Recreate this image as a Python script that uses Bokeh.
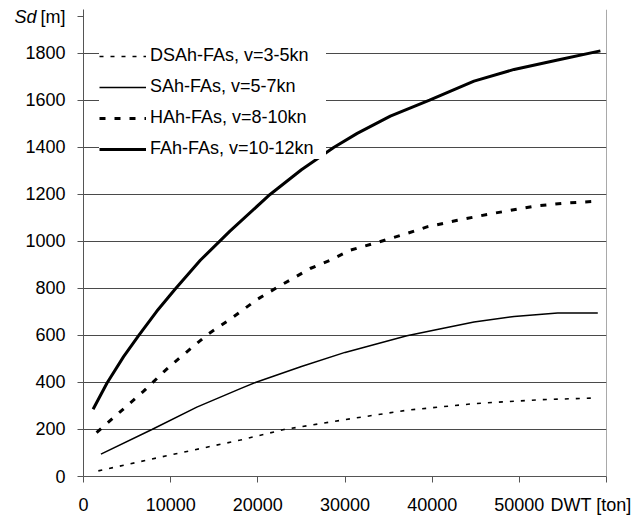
from bokeh.plotting import figure
from bokeh.models import Legend, LegendItem, Span, FixedTicker, Range1d, LinearAxis
from bokeh.embed import file_html
from bokeh.resources import INLINE

# ---- data ----
dsah_x = [1700, 10000, 18000, 23000, 30000, 37100, 44800, 52500, 58800]
dsah_y = [24, 92, 155, 200, 242, 282, 310, 327, 334]

sah_x = [2000, 7850, 13000, 18000, 19800, 25000, 30000, 37100, 41000, 44800, 49400, 54400, 59000]
sah_y = [95, 200, 295, 374, 401, 468, 528, 599, 629, 657, 681, 696, 696]

hah_x = [1500, 4200, 6900, 9200, 10500, 13000, 14300, 17200, 19900, 22200, 26000, 28300, 30600,
         33900, 37100, 39400, 42900, 46300, 51700, 55200, 58800]
hah_y = [187, 275, 363, 445, 488, 566, 606, 679, 753, 804, 885, 920, 963,
         998, 1034, 1062, 1090, 1115, 1150, 1163, 1171]

fah_x = [1100, 2700, 4600, 6300, 8400, 10500, 13400, 16800, 21400, 25000, 28700, 31400, 35200, 39700,
         44800, 49400, 54400, 59300]
fah_y = [286, 398, 510, 598, 703, 797, 920, 1044, 1200, 1305, 1400, 1460, 1533, 1601,
         1682, 1732, 1772, 1811]

x_ticks = [0, 10000, 20000, 30000, 40000, 50000, 60000]
y_ticks = [0, 200, 400, 600, 800, 1000, 1200, 1400, 1600, 1800]

series_labels = ["DSAh-FAs, v=3-5kn", "SAh-FAs, v=5-7kn", "HAh-FAs, v=8-10kn", "FAh-FAs, v=10-12kn"]
x_title = "DWT [ton]"
y_title_italic = "Sd"
y_title_unit = "[m]"
title_y = 1957   # vertical position of the y-axis title

FONT = "Liberation Sans"
AX = "#555555"
NBSP = "\u00a0"

p = figure(width=641, height=517,
           x_range=Range1d(0, 60000), y_range=Range1d(0, 1987),
           output_backend="svg", toolbar_location=None,
           min_border_left=83, min_border_right=35, min_border_top=9, min_border_bottom=41)
p.outline_line_color = None
p.background_fill_color = "white"
p.border_fill_color = "white"
p.xgrid.visible = False
p.ygrid.ticker = FixedTicker(ticks=y_ticks)
p.ygrid.grid_line_color = "#4a4a4a"
p.ygrid.grid_line_width = 1

for ax, ticks in ((p.xaxis[0], x_ticks), (p.yaxis[0], y_ticks + [title_y])):
    ax.ticker = FixedTicker(ticks=ticks)
    ax.axis_line_color = AX
    ax.major_tick_line_color = AX
    ax.minor_tick_line_color = None
    ax.major_tick_in = 0
    ax.major_tick_out = 6
    ax.major_label_text_font = FONT
    ax.major_label_text_font_size = "18px"
    ax.major_label_text_color = "black"
p.xaxis[0].major_label_standoff = 12
p.yaxis[0].major_label_standoff = 12
p.xaxis[0].major_label_overrides = {60000: x_title + NBSP * 2}
p.yaxis[0].major_label_overrides = {title_y: y_title_unit}

# italic "Sd" part of the y title, on a bare extra axis
sd_axis = LinearAxis(ticker=FixedTicker(ticks=[title_y]), major_label_overrides={title_y: y_title_italic},
                     axis_line_color=None, major_tick_line_color=None, minor_tick_line_color=None,
                     major_tick_in=0, major_tick_out=0, major_label_standoff=-14,
                     major_label_text_font=FONT, major_label_text_font_size="18px",
                     major_label_text_font_style="italic", major_label_text_color="black")
p.add_layout(sd_axis, "left")

# right border
p.add_layout(Span(location=60000, dimension="height", line_color=AX, line_width=1))

r_ds = p.line(dsah_x, dsah_y, line_color="black", line_width=1.6, line_dash="4 7")
r_s = p.line(sah_x, sah_y, line_color="black", line_width=1.5)
r_h = p.line(hah_x, hah_y, line_color="black", line_width=3, line_dash="6 9")
r_f = p.line(fah_x, fah_y, line_color="black", line_width=3)

legend = Legend(items=[LegendItem(label=series_labels[0], renderers=[r_ds]),
                       LegendItem(label=series_labels[1], renderers=[r_s]),
                       LegendItem(label=series_labels[2], renderers=[r_h]),
                       LegendItem(label=series_labels[3], renderers=[r_f])],
                location=(16, 317),
                background_fill_color="white", background_fill_alpha=1.0,
                border_line_color=None,
                glyph_width=47, glyph_height=20, label_height=20, label_width=176,
                spacing=10, padding=16, label_standoff=4, margin=0,
                label_text_font=FONT, label_text_font_size="18px",
                label_text_color="black")
p.add_layout(legend)

open("out.html", "w").write(file_html(p, INLINE))
